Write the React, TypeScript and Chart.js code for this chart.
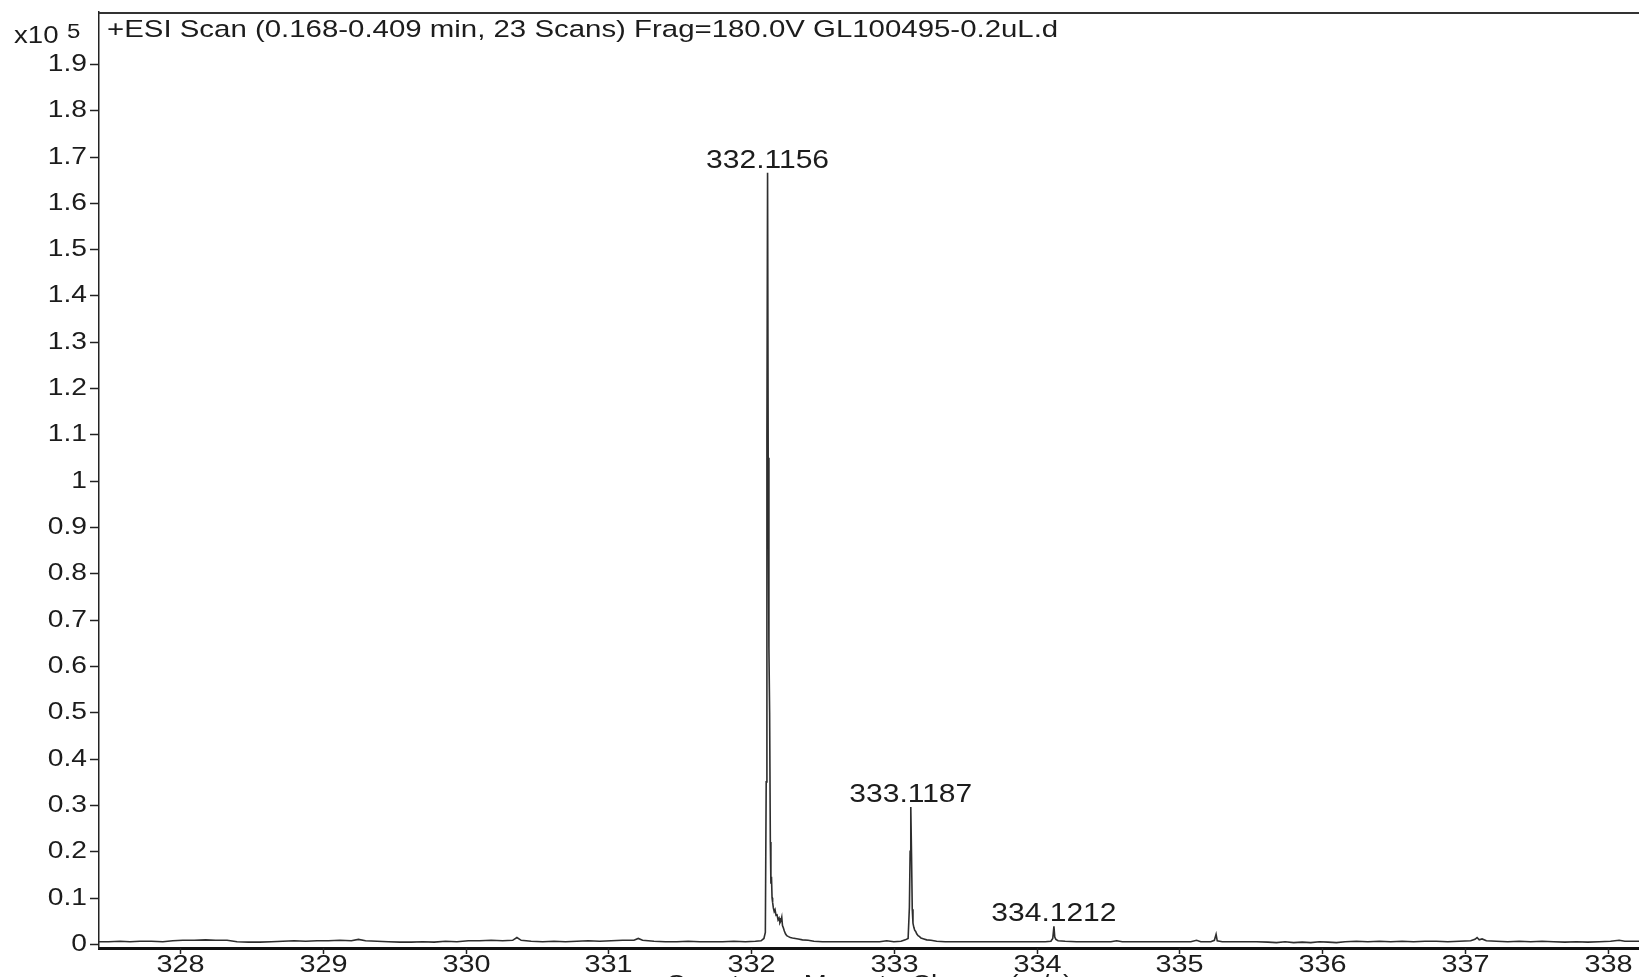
import React, { useEffect, useRef } from "react";
import { Chart, registerables } from "chart.js";

Chart.register(...registerables);

// m/z axis values and intensities (x10^5 counts)
const mzValues = [
  327.43, 327.5, 327.58, 327.65, 327.72, 327.8, 327.88, 327.95, 328.02, 328.1,
  328.18, 328.25, 328.33, 328.4, 328.48, 328.56, 328.64, 328.72, 328.8, 328.88,
  328.96, 329.04, 329.12, 329.2, 329.25, 329.3, 329.38, 329.46, 329.54, 329.62,
  329.7, 329.78, 329.86, 329.94, 330.02, 330.1, 330.18, 330.26, 330.33, 330.36,
  330.39, 330.46, 330.54, 330.62, 330.7, 330.78, 330.86, 330.94, 331.02, 331.1,
  331.18, 331.21, 331.24, 331.32, 331.4, 331.48, 331.56, 331.64, 331.72, 331.8,
  331.88, 331.96, 332.03, 332.07, 332.09, 332.1, 332.106, 332.111, 332.1156, 332.12,
  332.125, 332.13, 332.135, 332.139, 332.143, 332.147, 332.151, 332.156, 332.162, 332.168,
  332.175, 332.182, 332.189, 332.196, 332.202, 332.209, 332.215, 332.22, 332.226, 332.233,
  332.241, 332.25, 332.262, 332.275, 332.29, 332.31, 332.33, 332.36, 332.4, 332.44,
  332.5, 332.58, 332.66, 332.74, 332.82, 332.9, 332.95, 333.0, 333.05, 333.08,
  333.1, 333.109, 333.114, 333.1187, 333.124, 333.129, 333.134, 333.14, 333.146, 333.153,
  333.16, 333.17, 333.18, 333.19, 333.21, 333.23, 333.26, 333.3, 333.36, 333.44,
  333.52, 333.6, 333.68, 333.76, 333.84, 333.92, 334.0, 334.06, 334.1, 334.113,
  334.1212, 334.127, 334.135, 334.15, 334.2, 334.28, 334.36, 334.44, 334.52, 334.56,
  334.6, 334.68, 334.76, 334.84, 334.92, 335.0, 335.08, 335.12, 335.15, 335.22,
  335.245, 335.257, 335.265, 335.3, 335.38, 335.46, 335.54, 335.62, 335.68, 335.74,
  335.8, 335.86, 335.92, 335.98, 336.04, 336.1, 336.16, 336.24, 336.32, 336.4,
  336.48, 336.56, 336.64, 336.72, 336.8, 336.88, 336.96, 337.04, 337.07, 337.085,
  337.1, 337.12, 337.15, 337.22, 337.3, 337.38, 337.46, 337.54, 337.62, 337.7,
  337.78, 337.86, 337.94, 338.02, 338.08, 338.12, 338.22,
];

const intensityValues = [
  0.005, 0.005, 0.006, 0.005, 0.006, 0.006, 0.005, 0.007, 0.008, 0.008,
  0.009, 0.008, 0.008, 0.005, 0.004, 0.004, 0.005, 0.006, 0.007, 0.006,
  0.007, 0.007, 0.008, 0.007, 0.01, 0.007, 0.006, 0.005, 0.004, 0.004,
  0.005, 0.004, 0.006, 0.005, 0.007, 0.007, 0.008, 0.007, 0.008, 0.014,
  0.008, 0.006, 0.005, 0.006, 0.005, 0.006, 0.007, 0.006, 0.007, 0.008,
  0.008, 0.012, 0.008, 0.006, 0.005, 0.005, 0.006, 0.005, 0.005, 0.005,
  0.006, 0.005, 0.006, 0.007, 0.012, 0.025, 0.35, 1.1, 1.665, 1.05,
  0.64, 0.5, 0.22, 0.13, 0.145, 0.1, 0.09, 0.078, 0.07, 0.074,
  0.062, 0.063, 0.052, 0.056, 0.046, 0.05, 0.058, 0.04, 0.035, 0.028,
  0.022, 0.018, 0.016, 0.014, 0.013, 0.012, 0.011, 0.009, 0.008, 0.006,
  0.005, 0.005, 0.005, 0.005, 0.005, 0.005, 0.007, 0.005, 0.006, 0.009,
  0.012, 0.08, 0.2, 0.296, 0.19, 0.075, 0.045, 0.036, 0.03, 0.027,
  0.022, 0.018, 0.016, 0.013, 0.011, 0.009, 0.008, 0.006, 0.005, 0.005,
  0.005, 0.005, 0.005, 0.005, 0.005, 0.005, 0.005, 0.005, 0.006, 0.012,
  0.038, 0.015, 0.01, 0.007, 0.006, 0.005, 0.005, 0.005, 0.005, 0.007,
  0.005, 0.005, 0.005, 0.005, 0.005, 0.005, 0.005, 0.008, 0.005, 0.005,
  0.008, 0.021, 0.007, 0.005, 0.005, 0.005, 0.005, 0.004, 0.003, 0.005,
  0.003, 0.004, 0.003, 0.005, 0.004, 0.003, 0.005, 0.006, 0.005, 0.006,
  0.005, 0.006, 0.005, 0.006, 0.006, 0.005, 0.006, 0.007, 0.01, 0.014,
  0.009, 0.011, 0.007, 0.006, 0.005, 0.006, 0.005, 0.006, 0.005, 0.004,
  0.005, 0.004, 0.005, 0.006, 0.008, 0.006, 0.006,
];

const xTicks = [328, 329, 330, 331, 332, 333, 334, 335, 336, 337, 338];
const yTicks = [0, 0.1, 0.2, 0.3, 0.4, 0.5, 0.6, 0.7, 0.8, 0.9, 1, 1.1, 1.2, 1.3, 1.4, 1.5, 1.6, 1.7, 1.8, 1.9];
const yTickLabels = ["0", "0.1", "0.2", "0.3", "0.4", "0.5", "0.6", "0.7", "0.8", "0.9", "1", "1.1", "1.2", "1.3", "1.4", "1.5", "1.6", "1.7", "1.8", "1.9"];

const peakMz = [332.1156, 333.1187, 334.1212];
const peakIntensity = [1.665, 0.296, 0.038];
const peakLabels = ["332.1156", "333.1187", "334.1212"];

const scanTitle = "+ESI Scan (0.168-0.409 min, 23 Scans) Frag=180.0V GL100495-0.2uL.d";
const axisTitle = "Counts vs. Mass-to-Charge (m/z)";

const FONT = '"Liberation Sans", Arial, sans-serif';
const STRETCH = 1.2;
const TEXT_COLOR = "#1c1c1c";

function drawText(
  ctx: CanvasRenderingContext2D,
  text: string,
  x: number,
  y: number,
  align: CanvasTextAlign,
  size: number
) {
  ctx.save();
  ctx.translate(x, y);
  ctx.scale(STRETCH, 1);
  ctx.font = `${size}px ${FONT}`;
  ctx.fillStyle = TEXT_COLOR;
  ctx.textAlign = align;
  ctx.textBaseline = "middle";
  ctx.fillText(text, 0, 0);
  ctx.restore();
}

const decorPlugin = {
  id: "decor",
  afterDraw(chart: any) {
    const { ctx, chartArea } = chart;
    const xs = chart.scales.x;
    const ys = chart.scales.y;
    ctx.save();
    // top frame line
    ctx.strokeStyle = "#333";
    ctx.lineWidth = 2;
    ctx.beginPath();
    ctx.moveTo(chartArea.left, chartArea.top + 1);
    ctx.lineTo(chartArea.right, chartArea.top + 1);
    ctx.stroke();

    // y ticks
    ctx.strokeStyle = "#222";
    ctx.lineWidth = 1.5;
    yTicks.forEach((v, i) => {
      const py = Math.round(ys.getPixelForValue(v)) + 0.5;
      ctx.beginPath();
      ctx.moveTo(chartArea.left - 9, py);
      ctx.lineTo(chartArea.left, py);
      ctx.stroke();
      drawText(ctx, yTickLabels[i], chartArea.left - 12, py, "right", 23.5);
    });

    // x ticks
    xTicks.forEach((v) => {
      const px = Math.round(xs.getPixelForValue(v)) + 0.5;
      ctx.beginPath();
      ctx.moveTo(px, chartArea.bottom);
      ctx.lineTo(px, chartArea.bottom + 6);
      ctx.stroke();
      drawText(ctx, String(v), px, chartArea.bottom + 17, "center", 24);
    });

    // peak labels
    peakMz.forEach((m, i) => {
      const px = xs.getPixelForValue(m);
      const py = ys.getPixelForValue(peakIntensity[i]);
      drawText(ctx, peakLabels[i], px, py - 12, "center", 25);
    });

    // scan title
    drawText(ctx, scanTitle, chartArea.left + 8, 30, "left", 24.5);

    // exponent label
    drawText(ctx, "x10", 14, 37, "left", 23);
    drawText(ctx, "5", 67, 32, "left", 20);

    // axis title (clipped by viewport)
    drawText(ctx, axisTitle, (chartArea.left + chartArea.right) / 2, chartArea.bottom + 38, "center", 23);
    ctx.restore();
  },
};

export default function App() {
  const canvasRef = useRef<HTMLCanvasElement | null>(null);

  useEffect(() => {
    if (!canvasRef.current) return;
    const points = mzValues.map((m, i) => ({ x: m, y: intensityValues[i] }));
    const chart = new Chart(canvasRef.current, {
      type: "line",
      data: {
        datasets: [
          {
            data: points,
            borderColor: "#2e2e2e",
            borderWidth: 1.6,
            pointRadius: 0,
            tension: 0,
            fill: false,
          },
        ],
      },
      options: {
        animation: false,
        responsive: false,
        devicePixelRatio: 1,
        events: [],
        layout: { padding: { left: 0, right: 0, top: 12, bottom: 0 } },
        plugins: { legend: { display: false }, tooltip: { enabled: false }, title: { display: false } },
        scales: {
          x: {
            type: "linear",
            min: 327.433,
            max: 338.219,
            grid: { display: false },
            ticks: { display: false },
            border: { display: true, color: "#111", width: 3 },
            afterFit: (s: any) => {
              s.height = 52;
            },
          },
          y: {
            type: "linear",
            min: -0.0086,
            max: 2.012,
            grid: { display: false },
            ticks: { display: false },
            border: { display: true, color: "#222", width: 1.5 },
            afterFit: (s: any) => {
              s.width = 99;
            },
          },
        },
      },
      plugins: [decorPlugin],
    } as any);
    return () => chart.destroy();
  }, []);

  return (
    <div style={{ position: "fixed", left: 0, top: 0, width: 1639, height: 977, overflow: "hidden", background: "#fff" }}>
      <canvas ref={canvasRef} width={1639} height={1000} style={{ display: "block", width: 1639, height: 1000 }} />
    </div>
  );
}
